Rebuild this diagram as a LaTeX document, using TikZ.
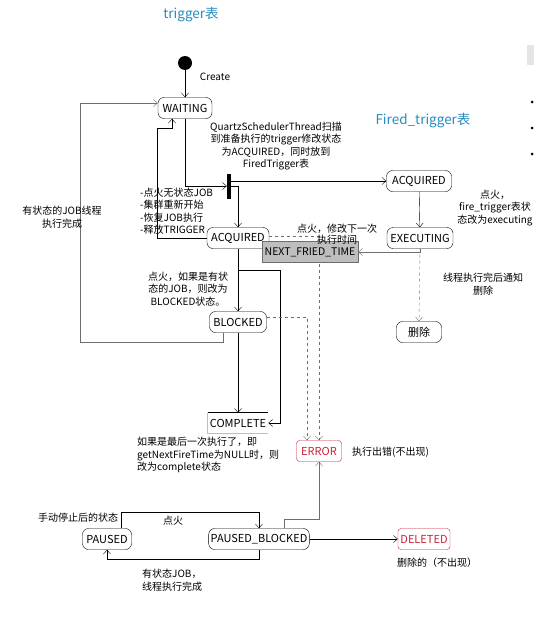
\documentclass[tikz,border=0pt]{standalone}
\usepackage{fontspec}
\setmainfont{Noto Sans CJK SC}
\usetikzlibrary{arrows.meta, positioning}
\definecolor{tblue}{RGB}{40,140,190}
\definecolor{ered}{RGB}{200,35,55}
\definecolor{lgray}{RGB}{110,110,110}
\definecolor{nfill}{RGB}{190,190,190}

\begin{document}
\begin{tikzpicture}[x=1pt, y=1pt, font=\fontsize{10}{12.5}\selectfont,
    >={Straight Barb[length=4pt,width=7pt]}]
    \tikzstyle{state} = [rectangle, rounded corners=6pt, draw, thin,
        inner sep=2pt, minimum height=21pt, font=\fontsize{11}{12}\selectfont]
    \tikzstyle{errstate} = [state, draw=ered, text=ered, rounded corners=3pt]
    \tikzstyle{title} = [text=tblue, font=\fontsize{13.5}{15}\selectfont]
    \tikzstyle{note} = [align=center, inner sep=0pt]
    \tikzstyle{line} = [draw, ->]
    \tikzstyle{gline} = [draw, ->, lgray]
    \tikzstyle{dline} = [draw, ->, lgray, dashed]

    \useasboundingbox (0,0) rectangle (534,-626);
    \node [title] (t1) at (191,-15) {trigger表};
    \node [title] (t2) at (423,-121) {Fired\_trigger表};
    %
    \node [circle, fill, inner sep=0pt, minimum size=14pt] (start) at (185,-63) {};
    \node [note] (create) at (215,-77) {Create};
    \node [state, minimum width=54pt] (waiting) at (185,-108) {WAITING};
    \node [fill, inner sep=0pt, minimum width=4pt, minimum height=25pt] (bar) at (229,-186) {};
    \node [state, minimum width=62pt] (acq) at (238,-238) {ACQUIRED};
    \node [state, minimum width=57pt] (blocked) at (238,-322) {BLOCKED};
    \node [inner sep=2pt, minimum width=56pt, minimum height=20pt,
        font=\fontsize{11}{12}\selectfont] (complete) at (238,-423) {COMPLETE};
    \node [errstate, minimum width=45pt] (error) at (319,-451) {ERROR};
    %
    \node [state, minimum width=65pt] (facq) at (419,-181) {ACQUIRED};
    \node [state, minimum width=66pt] (exec) at (420,-238) {EXECUTING};
    \node [state, minimum width=45pt] (del) at (419,-332) {删除};
    %
    \node [state, minimum width=49pt] (paused) at (107,-539) {PAUSED};
    \node [state, minimum width=100pt] (pblocked) at (259,-539) {PAUSED\_BLOCKED};
    \node [errstate, minimum width=52pt] (deleted) at (424,-539) {DELETED};
    %
    \path [line] (start) -- (waiting);
    \path [line] (waiting.south) |- (bar.west);
    \path [line] (bar.east |- facq.west) -- (facq.west);
    \path [line] (bar.east) -| (acq.north);
    \path [line] (acq.west) -| (157,-128) -| ([xshift=-13pt]waiting.south);
    \path [gline] ([xshift=-15pt]blocked.south) |- (80,-342) |- ([yshift=5pt]waiting.west);
    \path [line] (acq) -- (blocked);
    \coordinate (split) at (acq.south |- 0,-270);
    \path [line] (split) -| ([xshift=12pt]complete.east) -- (complete.east);
    \path [line] (blocked) -- (complete);
    \draw [line width=1pt] (complete.north west) -- (complete.north east);
    \draw [black!25] (complete.north west) -- (complete.south west) -- (complete.south east);
    \path [dline] ([yshift=5pt]blocked.east) -| ([xshift=-12pt]error.north);
    \path [dline] ([yshift=2pt]acq.east) -| (error.north);
    %
    \path [line] (facq) -- (exec);
    \path [dline] (exec.south) -- (del.north);
    \node [draw=lgray, fill=nfill, inner sep=2pt, minimum width=96pt, minimum height=21pt,
        font=\fontsize{10.5}{12}\selectfont] (next) at (310,-252) {NEXT\_FRIED\_TIME};
    \path [gline] (exec.south) |- (next.east);
    %
    \path [line] ([xshift=14pt]paused.north) |- (pblocked.north |- 0,-512) -- (pblocked.north);
    \path [line] (pblocked.south) |- (paused.south |- 0,-559) -- (paused.south);
    \path [gline] ([xshift=25pt]pblocked.north) |- (error.south |- 0,-519) -- (error.south);
    \path [line] (pblocked) -- (deleted);
    %
    \node [note] (n1) at (276,-146) {QuartzSchedulerThread扫描\\到准备执行的trigger修改状态\\为ACQUIRED，同时放到\\FiredTrigger表};
    \node [note, align=left, anchor=west] (n2) at (140,-211) {-点火无状态JOB\\-集群重新开始\\-恢复JOB执行\\-释放TRIGGER};
    \node [note] (n3) at (62,-217) {有状态的JOB线程\\执行完成};
    \node [note] (n4) at (188,-289) {点火，如果是有状\\态的JOB，则改为\\BLOCKED状态。};
    \node [note, font=\fontsize{10}{11.5}\selectfont] (n5) at (337,-234) {点火，修改下一次\\执行时间};
    \node [note] (n6) at (495,-208) {点火，\\fire\_trigger表状\\态改为executing};
    \node [note] (n7) at (483,-284) {线程执行完后通知\\删除};
    \node [note, align=left, anchor=west] (n8) at (137,-455) {如果是最后一次执行了，即\\getNextFireTime为NULL时，则\\改为complete状态};
    \node [note, anchor=west] (n9) at (352,-452) {执行出错(不出现)};
    \node [note] (n10) at (78,-518) {手动停止后的状态};
    \node [note] (n11) at (173,-521) {点火};
    \node [note, align=left, anchor=west] (n12) at (142,-580) {有状态JOB，\\线程执行完成};
    \node [note, anchor=west] (n13) at (397,-563) {删除的（不出现）};
    %
    \fill [black!10] (527,-45) rectangle (534,-65);
    \foreach \y in {102,128,154}
        \fill (532,-\y) circle (1.5pt);
\end{tikzpicture}
\end{document}
